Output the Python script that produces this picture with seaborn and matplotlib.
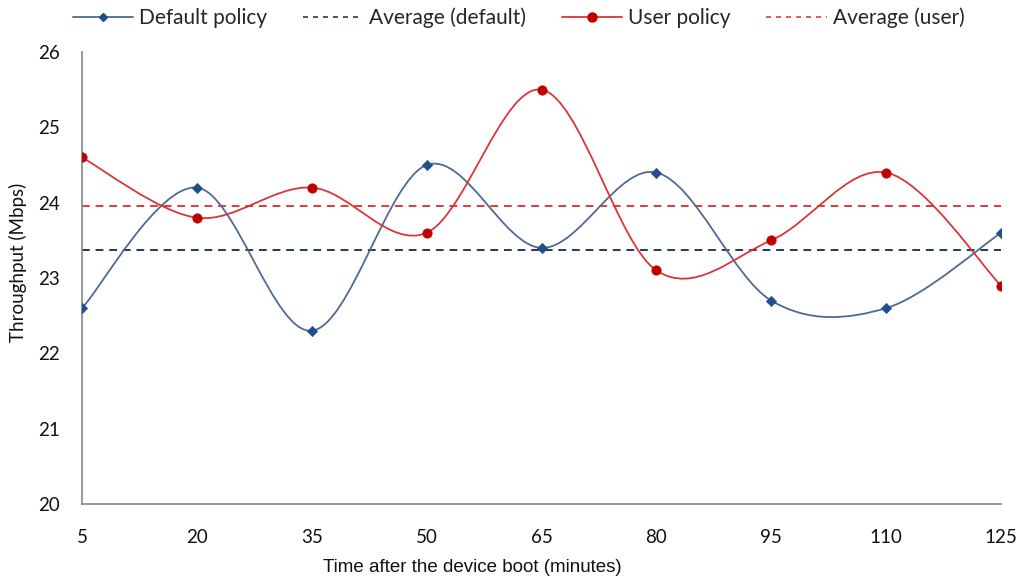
import numpy as np
import pandas as pd
import matplotlib
matplotlib.use("Agg")
import matplotlib.pyplot as plt
import seaborn as sns
from matplotlib.path import Path
from matplotlib.patches import PathPatch
from matplotlib.lines import Line2D

times = [5, 20, 35, 50, 65, 80, 95, 110, 125]
default_policy = [22.6, 24.2, 22.3, 24.5, 23.4, 24.4, 22.7, 22.6, 23.6]
user_policy = [24.6, 23.8, 24.2, 23.6, 25.5, 23.1, 23.5, 24.4, 22.9]
y_ticks = [20, 21, 22, 23, 24, 25, 26]

sns.set_theme(style="white")
plt.rcParams['font.family'] = ['Lato', 'DejaVu Sans']

fig = plt.figure(figsize=(10.21, 5.86), dpi=100)
ax = fig.add_axes([82/1021, 1-504/586, (1001-82)/1021, (504-52)/586])

df = pd.DataFrame({"time": times * 2,
                   "value": default_policy + user_policy,
                   "series": ["Default policy"] * 9 + ["User policy"] * 9})

c_def_line = "#4f6a93"
c_def_mark = "#1f4e8c"
c_user_line = "#d9363a"
c_user_mark = "#c00000"


def smooth_path(xs, ys):
    xs = np.asarray(xs, float)
    ys = np.asarray(ys, float)
    n = len(xs)
    verts = [(xs[0], ys[0])]
    codes = [Path.MOVETO]
    for i in range(n - 1):
        p0 = (xs[max(i - 1, 0)], ys[max(i - 1, 0)])
        p1 = (xs[i], ys[i])
        p2 = (xs[i + 1], ys[i + 1])
        p3 = (xs[min(i + 2, n - 1)], ys[min(i + 2, n - 1)])
        c1 = (p1[0] + (p2[0] - p0[0]) / 6, p1[1] + (p2[1] - p0[1]) / 6)
        c2 = (p2[0] - (p3[0] - p1[0]) / 6, p2[1] - (p3[1] - p1[1]) / 6)
        verts += [c1, c2, p2]
        codes += [Path.CURVE4] * 3
    return Path(verts, codes)


ax.add_patch(PathPatch(smooth_path(times, default_policy), fill=False,
                       edgecolor=c_def_line, lw=1.3, zorder=2))
ax.add_patch(PathPatch(smooth_path(times, user_policy), fill=False,
                       edgecolor=c_user_line, lw=1.3, zorder=2))

sns.scatterplot(data=df[df.series == "Default policy"], x="time", y="value",
                marker="D", s=28, color=c_def_mark, edgecolor=c_def_mark,
                ax=ax, zorder=3, legend=False)
sns.scatterplot(data=df[df.series == "User policy"], x="time", y="value",
                marker="o", s=45, color=c_user_mark, edgecolor=c_user_mark,
                ax=ax, zorder=3, legend=False)

avg_def = np.mean(default_policy)
avg_user = np.mean(user_policy)
ax.plot([times[0], times[-1]], [avg_def, avg_def], ls=(0, (4, 3)),
        color="#1f3864", lw=1.4, zorder=1)
ax.plot([times[0], times[-1]], [avg_user, avg_user], ls=(0, (4, 3)),
        color="#e03a3a", lw=1.4, zorder=1)

ax.set_xlim(times[0], times[-1])
ax.set_ylim(20, 26)
ax.set_xticks(times)
ax.set_xticklabels([str(t) for t in times])
ax.set_yticks(y_ticks)
ax.set_yticklabels([str(t) for t in y_ticks])
for lab in ax.get_xticklabels() + ax.get_yticklabels():
    lab.set_fontsize(13.5)
    lab.set_color("#111111")
ax.tick_params(axis='x', pad=18, length=0)
ax.tick_params(axis='y', pad=16, length=0)

for s in ["top", "right"]:
    ax.spines[s].set_visible(False)
for s in ["left", "bottom"]:
    ax.spines[s].set_color("#888888")
    ax.spines[s].set_linewidth(1.2)

ax.set_xlabel("Time after the device boot (minutes)",
              family=['Liberation Sans', 'DejaVu Sans'],
              fontsize=13.5, color="#111111")
ax.xaxis.set_label_coords((472 - 82) / 919, (504 - 568) / 452)
ax.xaxis.label.set_va("center")
ax.set_ylabel("Throughput (Mbps)", fontsize=13.5, color="#111111")
ax.yaxis.set_label_coords((18 - 82) / 919, (504 - 262) / 452)
ax.yaxis.label.set_va("center")

handles = [
    Line2D([], [], color=c_def_line, lw=1.3, marker="D", markersize=4.5,
           markerfacecolor=c_def_mark, markeredgecolor=c_def_mark),
    Line2D([], [], color="#1f3864", lw=1.2, ls=(0, (3, 3))),
    Line2D([], [], color=c_user_line, lw=1.3, marker="o", markersize=6.5,
           markerfacecolor=c_user_mark, markeredgecolor=c_user_mark),
    Line2D([], [], color="#e03a3a", lw=1.2, ls=(0, (3, 3))),
]
labels = ["Default policy", "Average (default)", "User policy", "Average (user)"]
fig.legend(handles, labels, loc="upper center", bbox_to_anchor=(0.508, 1.008),
           ncol=4, frameon=False, fontsize=15, handlelength=2.9,
           columnspacing=1.7, handletextpad=0.3, borderaxespad=0.2)

fig.savefig("out.png", dpi=100)
